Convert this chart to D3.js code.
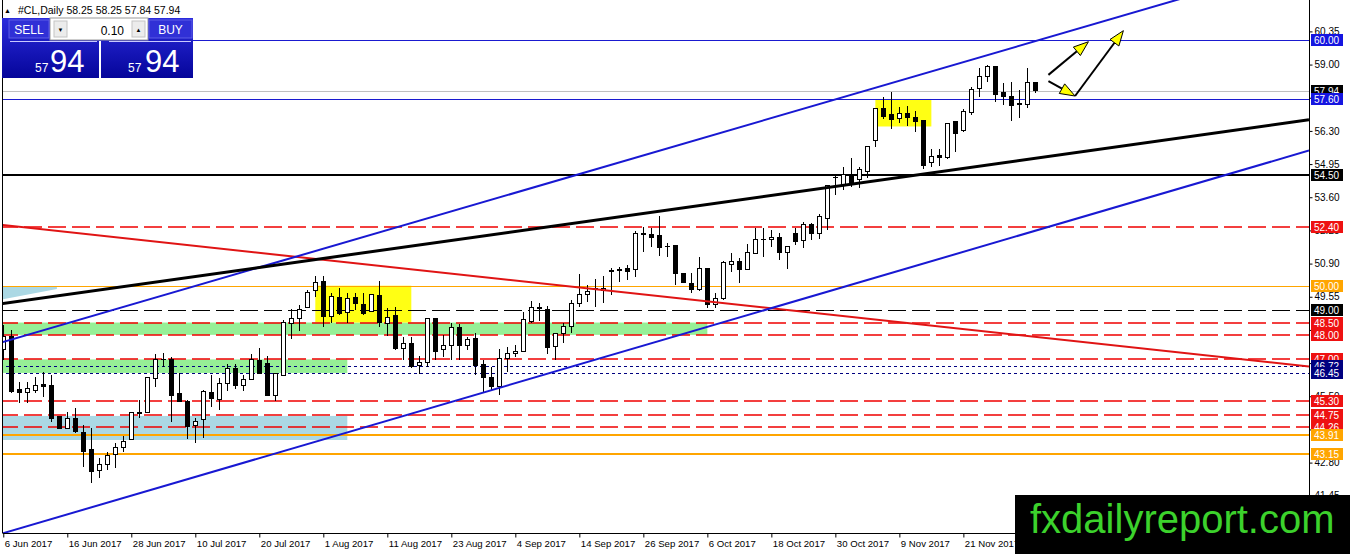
<!DOCTYPE html>
<html>
<head>
<meta charset="utf-8">
<script src="https://cdn.jsdelivr.net/npm/d3@7/dist/d3.min.js"></script>
<style>
  html, body { margin: 0; padding: 0; background: #fff; overflow: hidden; }
  svg { display: block; font-family: "Liberation Sans", Arial, sans-serif; }
</style>
</head>
<body>
<svg id="chart" width="1350" height="554"></svg>
<script>
// #CL daily bars, one per trading day starting 6 Jun 2017
const opens = [47.39,47.93,45.79,45.65,45.73,45.99,45.92,44.67,44.20,44.60,44.04,43.35,42.47,42.71,43.15,43.42,43.75,44.85,44.84,46.23,
  47.00,47.00,45.62,45.28,44.33,44.54,45.65,45.38,46.03,46.63,45.94,46.19,46.97,46.84,45.55,46.36,48.47,48.65,49.11,49.82,
  50.16,48.74,49.53,48.91,49.53,49.24,48.97,49.62,48.47,48.77,47.46,47.66,46.74,46.88,48.68,47.42,47.57,48.31,47.57,47.86,
  46.80,46.27,45.89,47.04,47.24,47.31,48.54,49.11,49.05,47.53,48.07,48.34,49.28,49.65,49.85,49.82,50.57,50.62,50.68,50.64,
  52.09,52.09,52.03,51.59,51.63,50.50,50.10,49.83,50.71,49.22,49.49,50.87,50.97,50.66,51.31,51.88,51.88,51.96,51.34,52.13,
  51.85,52.49,52.13,52.73,54.41,54.06,54.54,54.33,54.64,55.92,57.22,56.95,56.82,56.99,56.86,56.71,55.00,55.28,55.22,56.68,
  56.31,57.05,58.03,58.51,58.94,57.86,57.72,57.39,57.39,58.25];
const highs = [48.40,48.20,46.09,46.09,46.30,46.50,46.36,44.67,44.88,45.01,44.33,44.20,42.97,43.24,43.59,43.89,44.84,45.35,46.27,47.24,
  47.27,47.08,46.46,45.35,44.60,45.75,46.36,46.23,46.80,46.80,46.36,47.24,47.47,47.14,46.46,48.60,49.05,49.22,49.82,50.39,
  50.39,49.69,49.89,49.69,49.69,49.72,49.65,50.19,49.08,49.12,47.93,47.93,47.14,48.68,48.68,48.00,48.47,48.45,47.93,48.09,
  46.97,46.68,47.41,47.51,47.58,48.95,49.38,49.28,49.18,48.07,48.47,49.42,50.48,50.03,50.27,50.39,50.71,50.77,50.84,52.23,
  52.37,52.33,52.83,51.72,51.63,50.50,50.50,51.18,50.71,49.69,51.00,51.34,51.11,51.68,52.33,52.33,52.26,52.13,51.61,52.33,
  52.60,52.56,52.91,54.06,54.46,54.84,55.18,54.84,55.68,57.22,57.67,57.90,57.29,57.32,57.09,56.71,55.55,55.55,56.61,56.72,
  57.18,58.10,58.85,58.98,58.94,58.26,58.30,57.97,58.85,58.25];
const lows = [46.98,45.62,45.21,45.21,45.62,45.48,44.47,44.16,44.20,44.00,42.63,41.98,42.16,42.50,42.57,43.24,43.75,44.60,44.84,45.86,
  46.70,44.47,45.28,43.75,43.59,43.79,45.08,44.94,45.73,45.78,45.73,46.16,46.40,45.51,45.32,46.32,47.82,48.16,49.11,49.55,
  48.31,48.47,48.81,48.47,49.01,48.81,48.95,48.30,47.96,47.39,46.98,46.64,46.40,46.70,46.97,47.11,46.97,46.97,47.39,46.36,
  45.69,45.76,45.55,46.50,47.11,47.31,48.47,48.58,47.23,46.97,47.66,48.07,49.15,49.35,49.15,49.28,49.62,50.16,50.23,50.34,
  51.38,51.59,51.21,51.18,50.03,50.10,49.69,49.80,49.08,49.08,49.42,50.57,50.10,50.64,51.31,51.18,51.58,51.04,50.66,51.65,
  51.52,51.85,51.92,52.26,53.69,53.89,54.03,53.96,54.37,55.63,56.77,56.37,56.64,56.50,56.27,54.77,54.84,54.87,55.14,55.45,
  56.27,56.95,57.69,58.30,57.49,57.36,56.72,56.81,57.22,57.84];
const closes = [47.93,45.69,45.65,45.82,45.93,45.89,44.60,44.20,44.60,44.06,43.25,42.43,42.71,43.08,43.42,43.67,44.84,44.81,46.27,47.00,
  46.98,45.52,45.28,44.27,44.47,45.69,45.40,46.03,46.62,45.93,46.19,47.00,46.43,45.52,46.42,48.49,48.65,49.05,49.73,50.12,
  48.74,49.58,48.88,49.49,49.28,48.88,49.65,48.50,48.72,47.46,47.66,46.70,46.88,48.68,47.31,47.57,48.31,47.57,47.82,46.74,
  46.27,45.89,47.04,47.24,47.34,48.61,49.11,49.09,47.48,48.07,48.34,49.28,49.65,49.78,49.89,49.89,50.62,50.64,50.57,52.13,
  52.11,51.96,51.56,51.58,50.50,50.12,49.85,50.71,49.22,49.49,50.93,51.00,50.66,51.34,51.88,51.89,51.96,51.34,51.61,51.79,
  52.49,52.13,52.80,54.06,54.42,54.54,54.19,54.71,55.68,57.22,56.88,56.75,56.99,56.86,56.68,54.91,55.25,55.22,56.61,56.18,
  57.09,57.99,58.51,58.94,57.79,57.69,57.32,57.41,58.26,57.94];

// time axis: a label every 8 bars
const dateTicks = ["6 Jun 2017","16 Jun 2017","28 Jun 2017","10 Jul 2017","20 Jul 2017","1 Aug 2017","11 Aug 2017","23 Aug 2017",
  "4 Sep 2017","14 Sep 2017","26 Sep 2017","6 Oct 2017","18 Oct 2017","30 Oct 2017","9 Nov 2017","21 Nov 2017"];
const priceTicks = [60.35,59.00,57.65,56.30,54.95,53.60,52.25,50.90,49.55,48.20,46.85,45.50,44.15,42.80,41.45];

// horizontal levels drawn on the chart
const levelPrices = [60.00,57.94,57.60,54.50,52.40,50.00,49.00,48.50,48.00,47.00,46.72,46.45,45.30,44.75,44.26,43.91,43.15];
const levelKinds  = ["blue","bid","blue","black","red","orange","blackDash","red","red","red","navy","navy","red","red","red","orangeWide","orangeWide"];

// zones: [fromBar, toBar, topPrice, bottomPrice]
const yellowZones = [[39,51,50.00,48.50],[109,116,57.60,56.48]];
const greenZones  = [[-1,88,48.50,48.00],[-1,43,47.00,46.45]];
const blueZones   = [[-1,43,44.70,43.72]];

// trend lines: [bar0, price0, bar1, price1]
const redLine     = [-0.41,52.48,163.2,46.71];
const channelTop  = [-0.41,47.67,163.2,63.20];
const channelLow  = [-0.41,39.89,163.2,55.50];
const blackLine   = [-0.41,49.26,163.2,56.75];

// arrows: [bar0, price0, bar1, price1] with the head at the second point
const arrows = [[130.63,58.58,135.63,59.93],[130.63,58.33,133.96,57.72],[133.96,57.72,140.0,60.38]];

const lotSize = "0.10";

const svg = d3.select("#chart");
const plotRight = 1309, plotBottom = 533;

const x = d3.scaleLinear().domain([-0.41, 163.2]).range([0, plotRight]);
const y = d3.scaleLinear().domain([39.935, 61.628]).range([plotBottom, 0]);

const defs = svg.append("defs");
defs.append("clipPath").attr("id", "clip")
  .append("rect").attr("x", 3).attr("y", 0).attr("width", plotRight - 3).attr("height", plotBottom);

const grad = defs.append("linearGradient").attr("id", "panelGrad")
  .attr("x1", "0%").attr("y1", "0%").attr("x2", "0%").attr("y2", "100%");
grad.append("stop").attr("offset", "0%").attr("stop-color", "#2b2bdc");
grad.append("stop").attr("offset", "100%").attr("stop-color", "#05059a");

const plot = svg.append("g").attr("clip-path", "url(#clip)");

// zones
function zones(list, color) {
  plot.append("g").selectAll("rect").data(list).join("rect")
    .attr("x", d => x(d[0]))
    .attr("width", d => x(d[1]) - x(d[0]))
    .attr("y", d => y(d[2]))
    .attr("height", d => y(d[3]) - y(d[2]))
    .attr("fill", color);
}
zones(greenZones, "#96ef96");
zones(blueZones, "#abd8e4");
zones(yellowZones, "#ffff14");

// small light blue wedge at the top left
plot.append("path")
  .attr("d", d3.line()([[x(-0.41), y(49.95)], [x(6.7), y(49.95)], [x(6.7), y(49.87)], [x(-0.41), y(49.42)]]))
  .attr("fill", "#abd8e4");

const levelStyle = {
  blue:       {stroke: "#1a1ad0", width: 1,   dash: "none", label: "#1515e0"},
  bid:        {stroke: "#c0c0c0", width: 1,   dash: "none", label: "#000000"},
  black:      {stroke: "#000000", width: 2,   dash: "none", label: "#000000"},
  red:        {stroke: "#f00000", width: 1.5, dash: "18,6", label: "#ee1111"},
  orange:     {stroke: "#ffa500", width: 1,   dash: "none", label: "#ffa500"},
  blackDash:  {stroke: "#000000", width: 1,   dash: "18,6", label: "#000000"},
  navy:       {stroke: "#000080", width: 1,   dash: "3,3",  label: "#000080"},
  orangeWide: {stroke: "#ffa500", width: 2,   dash: "none", label: "#ffa500"}
};
const levels = levelPrices.map((p, k) => ({p, s: levelStyle[levelKinds[k]]}));

plot.append("g").selectAll("line").data(levels).join("line")
  .attr("x1", 0).attr("x2", plotRight)
  .attr("y1", d => Math.round(y(d.p)) + (d.s.width === 1 ? 0.5 : 0))
  .attr("y2", d => Math.round(y(d.p)) + (d.s.width === 1 ? 0.5 : 0))
  .style("stroke", d => d.s.stroke)
  .style("stroke-width", d => d.s.width)
  .style("stroke-dasharray", d => d.s.dash);

// candles
const bars = opens.map((o, i) => ({i, o, h: highs[i], l: lows[i], c: closes[i]}));
const cg = plot.append("g").attr("shape-rendering", "crispEdges");
cg.selectAll("line").data(bars).join("line")
  .attr("x1", d => Math.round(x(d.i)) + 0.5)
  .attr("x2", d => Math.round(x(d.i)) + 0.5)
  .attr("y1", d => y(d.h))
  .attr("y2", d => y(d.l))
  .attr("stroke", "#000");
cg.selectAll("rect").data(bars).join("rect")
  .attr("x", d => Math.round(x(d.i)) - 1.5)
  .attr("width", 4)
  .attr("y", d => y(Math.max(d.o, d.c)))
  .attr("height", d => Math.max(0.01, Math.abs(y(d.o) - y(d.c))))
  .attr("fill", d => d.c > d.o ? "#fff" : "#000")
  .attr("stroke", "#000");

// trend lines
const trend = [[redLine, "#e01414", 2], [channelTop, "#1818d2", 2], [channelLow, "#1818d2", 2], [blackLine, "#000", 3]];
plot.append("g").selectAll("line").data(trend).join("line")
  .attr("x1", d => x(d[0][0])).attr("y1", d => y(d[0][1]))
  .attr("x2", d => x(d[0][2])).attr("y2", d => y(d[0][3]))
  .attr("stroke", d => d[1])
  .attr("stroke-width", d => d[2]);

// arrows
const ag = plot.append("g");
arrows.forEach(a => {
  const x0 = x(a[0]), y0 = y(a[1]), x1 = x(a[2]), y1 = y(a[3]);
  const ang = Math.atan2(y1 - y0, x1 - x0);
  const len = 15, hw = 5.5;
  const bx = x1 - len * Math.cos(ang), by = y1 - len * Math.sin(ang);
  ag.append("line").attr("x1", x0).attr("y1", y0).attr("x2", bx).attr("y2", by)
    .attr("stroke", "#000").attr("stroke-width", 2);
  ag.append("path")
    .attr("d", d3.line()([[x1, y1],
      [bx + hw * Math.sin(ang), by - hw * Math.cos(ang)],
      [bx - hw * Math.sin(ang), by + hw * Math.cos(ang)]]) + "Z")
    .attr("fill", "#ffff00").attr("stroke", "#000").attr("stroke-width", 1);
});

// left frame
svg.append("line").attr("x1", 2.5).attr("x2", 2.5).attr("y1", 0).attr("y2", plotBottom)
  .attr("stroke", "#000");

// axes
const xAxis = d3.axisBottom(x)
  .tickValues(dateTicks.map((d, k) => k * 8))
  .tickFormat((d, k) => dateTicks[k])
  .tickSize(4).tickSizeOuter(0).tickPadding(3);
const gx = svg.append("g").attr("transform", `translate(0,${plotBottom + 0.5})`).call(xAxis);
gx.selectAll("text").attr("text-anchor", "start").attr("dx", "1").attr("font-size", 9.6)
  .attr("font-family", "Liberation Sans, Arial, sans-serif").attr("fill", "#000");
gx.select(".domain").attr("d", `M2.5,0H${plotRight}`);

const yAxis = d3.axisRight(y)
  .tickValues(priceTicks)
  .tickFormat(d3.format(".2f"))
  .tickSize(3).tickSizeOuter(0).tickPadding(2);
const gy = svg.append("g").attr("transform", `translate(${plotRight + 0.5},0)`).call(yAxis);
gy.selectAll("text").attr("font-size", 10)
  .attr("font-family", "Liberation Sans, Arial, sans-serif").attr("fill", "#000");
gy.select(".domain").attr("d", `M0,0V${plotBottom}`);

// level price labels
const lg = svg.append("g").selectAll("g").data(levels).join("g")
  .attr("transform", d => `translate(${plotRight + 2},${Math.round(y(d.p))})`);
lg.append("rect").attr("x", 0).attr("y", -6).attr("width", 32).attr("height", 12)
  .attr("fill", d => d.s.label);
lg.append("text").attr("x", 3).attr("y", 4)
  .attr("font-size", 10).attr("fill", "#fff")
  .text(d => d.p.toFixed(2));

// chart title
const last = bars.length - 1;
svg.append("text").attr("x", 4).attr("y", 13).attr("font-size", 7).text("\u25B2");
svg.append("text").attr("x", 18).attr("y", 14).attr("font-size", 10.5).attr("fill", "#000")
  .text(`#CL,Daily  ${opens[last].toFixed(2)} ${highs[last].toFixed(2)} ${lows[last].toFixed(2)} ${closes[last].toFixed(2)}`);

// one click trading panel
const pn = svg.append("g");
const px = closes[last].toFixed(2).split(".");
[[2, 97], [101, 92]].forEach(b => {
  pn.append("rect").attr("x", b[0]).attr("y", 18).attr("width", b[1]).attr("height", 60)
    .attr("fill", "url(#panelGrad)");
  pn.append("line").attr("x1", b[0] + 8).attr("x2", b[0] + b[1] - 2).attr("y1", 41.5).attr("y2", 41.5)
    .attr("stroke", "#c8c8ff").attr("stroke-width", 1);
});
pn.append("rect").attr("x", 50).attr("y", 18).attr("width", 98).attr("height", 22)
  .attr("fill", "#fff").attr("stroke", "#9a9a9a");
[[54, "\u25BC"], [132, "\u25B2"]].forEach(b => {
  pn.append("rect").attr("x", b[0]).attr("y", 21).attr("width", 13).attr("height", 16)
    .attr("fill", "#ececec").attr("stroke", "#c4c4c4");
  pn.append("text").attr("x", b[0] + 6.5).attr("y", 32).attr("text-anchor", "middle")
    .attr("font-size", 6).attr("fill", "#000").text(b[1]);
});
pn.append("text").attr("x", 124).attr("y", 35).attr("text-anchor", "end")
  .attr("font-size", 12).attr("fill", "#000").text(lotSize);
[[9, 40, "SELL"], [149, 43, "BUY"]].forEach(b => {
  pn.append("rect").attr("x", b[0]).attr("y", 20).attr("width", b[1]).attr("height", 18)
    .attr("fill", "#3030d6").attr("stroke", "#5c5ce6");
  pn.append("text").attr("x", b[0] + b[1] / 2).attr("y", 34).attr("text-anchor", "middle")
    .attr("font-size", 12).attr("fill", "#fff").text(b[2]);
});
[[35, 50], [128, 145]].forEach(b => {
  pn.append("text").attr("x", b[0]).attr("y", 72).attr("font-size", 12).attr("fill", "#fff").text(px[0]);
  pn.append("text").attr("x", b[1]).attr("y", 72).attr("font-size", 31).attr("fill", "#fff").text(px[1]);
});

// watermark
svg.append("rect").attr("x", 1015).attr("y", 495).attr("width", 335).attr("height", 59).attr("fill", "#000");
svg.append("text").attr("x", 1030).attr("y", 533).attr("font-size", 40)
  .attr("font-family", "Liberation Sans, Arial, sans-serif")
  .attr("fill", "#3cd22c").text("fxdailyreport.com");
</script>
</body>
</html>
